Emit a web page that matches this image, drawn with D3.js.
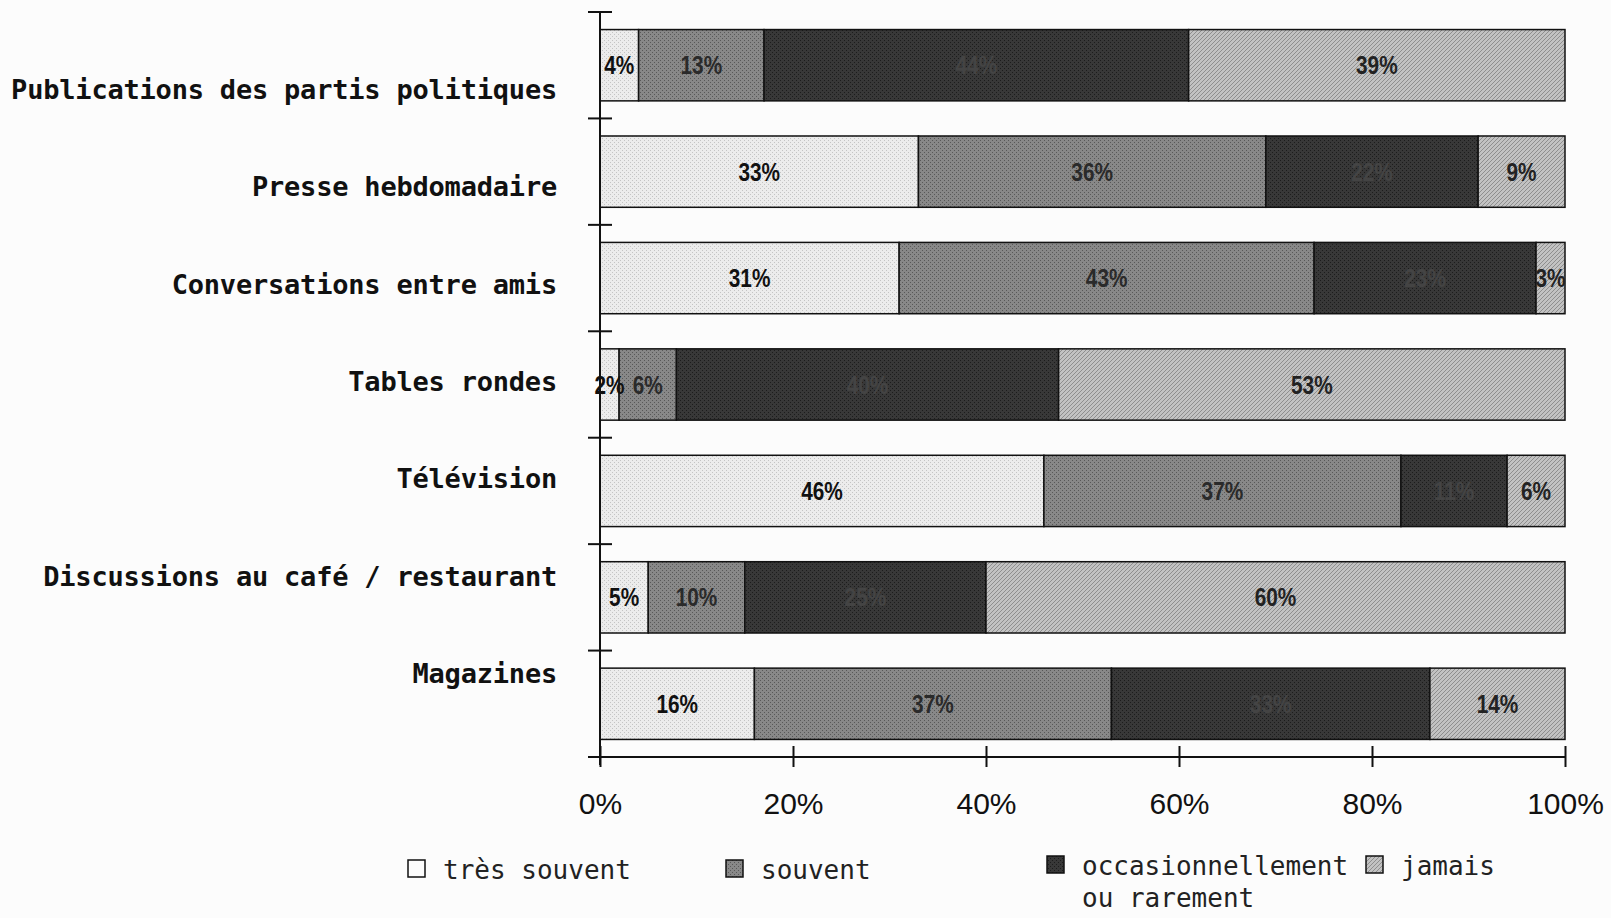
<!DOCTYPE html>
<html>
<head>
<meta charset="utf-8">
<script src="https://cdn.jsdelivr.net/npm/d3@7"></script>
<style>
  html, body { margin: 0; padding: 0; background: #fcfcfc; }
  svg { display: block; }
</style>
</head>
<body>
<svg id="chart" width="1611" height="918"></svg>
<script>
// ---- data ----
const categories = [
  "Publications des partis politiques",
  "Presse hebdomadaire",
  "Conversations entre amis",
  "Tables rondes",
  "Télévision",
  "Discussions au café / restaurant",
  "Magazines"
];
const seriesNames = ["très souvent", "souvent", "occasionnellement ou rarement", "jamais"];
const tresSouvent = [4, 33, 31, 2, 46, 5, 16];
const souvent     = [13, 36, 43, 6, 37, 10, 37];
const occasion    = [44, 22, 23, 40, 11, 25, 33];
const jamais      = [39, 9, 3, 53, 6, 60, 14];
const xTicks = [0, 0.2, 0.4, 0.6, 0.8, 1];
const legendLines = [["très souvent"], ["souvent"], ["occasionnellement", "ou rarement"], ["jamais"]];

const seriesValues = [tresSouvent, souvent, occasion, jamais];
const keys = ["s0", "s1", "s2", "s3"];
const rows = categories.map((c, i) => {
  const r = { cat: c };
  keys.forEach((k, j) => r[k] = seriesValues[j][i]);
  return r;
});

const svg = d3.select("#chart");

// ---- patterns emulating the scanned textures ----
const defs = svg.append("defs");
const patSpecs = [
  { id: "p0", base: "#ececec", dot: "#c4c4c4", kind: "dots" },
  { id: "p1", base: "#888888", dot: "#585858", kind: "dots" },
  { id: "p2", base: "#383838", dot: "#1c1c1c", kind: "dots" },
  { id: "p3", base: "#c2c2c2", dot: "#8e8e8e", kind: "hatch" }
];
patSpecs.forEach(p => {
  const pat = defs.append("pattern").attr("id", p.id)
    .attr("patternUnits", "userSpaceOnUse").attr("width", 4).attr("height", 4);
  pat.append("rect").attr("width", 4).attr("height", 4).attr("fill", p.base);
  if (p.kind === "dots") {
    pat.append("rect").attr("x", 0).attr("y", 0).attr("width", 1).attr("height", 1).attr("fill", p.dot);
    pat.append("rect").attr("x", 2).attr("y", 2).attr("width", 1).attr("height", 1).attr("fill", p.dot);
  } else {
    pat.append("path").attr("d", "M0,4 L4,0 M-1,1 L1,-1 M3,5 L5,3")
      .attr("stroke", p.dot).attr("stroke-width", 1);
  }
});

// ---- scales ----
const x = d3.scaleLinear().domain([0, 1]).range([600, 1565]);
const y = d3.scaleBand().domain(categories).range([12, 757]).paddingInner(0.33).paddingOuter(0.165);
const labelY = d3.scalePoint().domain(categories).range([90, 674]);
const color = d3.scaleOrdinal().domain(keys).range(["url(#p0)", "url(#p1)", "url(#p2)", "url(#p3)"]);
const textColor = d3.scaleOrdinal().domain(keys).range(["#111", "#2a2a2a", "#444", "#222"]);

const stack = d3.stack().keys(keys).offset(d3.stackOffsetExpand);
const stacked = stack(rows);

// ---- bars ----
const g = svg.append("g");
stacked.forEach((layer) => {
  g.append("g").selectAll("rect").data(layer).join("rect")
    .attr("x", d => x(d[0]))
    .attr("y", d => y(d.data.cat))
    .attr("width", d => x(d[1]) - x(d[0]))
    .attr("height", y.bandwidth())
    .attr("fill", color(layer.key))
    .attr("stroke", "#111")
    .attr("stroke-width", 1.5);
});

// segment labels
stacked.forEach((layer) => {
  g.append("g").selectAll("text").data(layer).join("text")
    .attr("transform", d => `translate(${(x(d[0]) + x(d[1])) / 2},${y(d.data.cat) + y.bandwidth() / 2 + 9}) scale(0.8,1)`)
    .attr("text-anchor", "middle")
    .attr("font-family", "'Liberation Sans', Arial, sans-serif")
    .attr("font-weight", "bold")
    .attr("font-size", 26)
    .attr("fill", textColor(layer.key))
    .text(d => d.data[layer.key] + "%");
});

// ---- y axis ----
const yAxisX = x(0);
svg.append("line").attr("x1", yAxisX).attr("x2", yAxisX).attr("y1", 12).attr("y2", 765)
  .attr("stroke", "#111").attr("stroke-width", 2);
const boundaries = categories.map(c => y(c) - y.step() * y.paddingInner() / 2);
boundaries[0] = y.range()[0];
svg.append("g").selectAll("line").data(boundaries).join("line")
  .attr("x1", yAxisX - 12).attr("x2", yAxisX + 12)
  .attr("y1", d => d).attr("y2", d => d)
  .attr("stroke", "#111").attr("stroke-width", 2);

// category labels
svg.append("g").selectAll("text").data(categories).join("text")
  .attr("x", 557)
  .attr("y", d => labelY(d) + 9)
  .attr("text-anchor", "end")
  .attr("font-family", "'DejaVu Sans Mono', monospace")
  .attr("font-weight", "bold")
  .attr("font-size", 27)
  .attr("letter-spacing", -0.2)
  .attr("fill", "#111")
  .text(d => d);

// ---- x axis ----
const xAxis = d3.axisBottom(x).tickValues(xTicks).tickFormat(d3.format(".0%")).tickSize(10).tickPadding(0);
const xg = svg.append("g").attr("transform", "translate(0,757)").call(xAxis);
xg.select(".domain").attr("d", `M588,0H${x(1)}`).attr("stroke", "#111").attr("stroke-width", 2);
xg.selectAll(".tick line").attr("y1", -11).attr("y2", 10).attr("stroke", "#111").attr("stroke-width", 2);
xg.selectAll(".tick text")
  .attr("y", 57).attr("dy", 0)
  .attr("font-family", "'Liberation Sans', Arial, sans-serif")
  .attr("font-size", 30)
  .attr("fill", "#111");

// ---- legend ----
const legendX = [408, 726, 1047, 1366];
const legendSqY = [860, 860, 856, 856];
const lg = svg.append("g");
keys.forEach((k, i) => {
  lg.append("rect")
    .attr("x", legendX[i]).attr("y", legendSqY[i])
    .attr("width", 17).attr("height", 17)
    .attr("fill", i === 0 ? "#fcfcfc" : color(k))
    .attr("stroke", "#111").attr("stroke-width", 1.5);
  const t = lg.append("text")
    .attr("x", legendX[i] + 35).attr("y", legendSqY[i] + 19)
    .attr("font-family", "'DejaVu Sans Mono', monospace")
    .attr("font-size", 26)
    .attr("fill", "#222");
  legendLines[i].forEach((line, j) => {
    t.append("tspan").attr("x", legendX[i] + 35).attr("dy", j === 0 ? 0 : 32).text(line);
  });
});
</script>
</body>
</html>
